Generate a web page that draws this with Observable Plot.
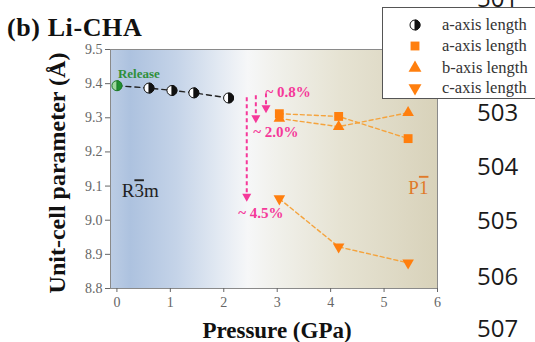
<!DOCTYPE html>
<html><head><meta charset="utf-8">
<script src="https://cdn.jsdelivr.net/npm/d3@7"></script>
<script src="https://cdn.jsdelivr.net/npm/@observablehq/plot@0.6"></script>
<style>
body{margin:0;background:#fff;}
#wrap{position:relative;width:535px;height:342px;overflow:hidden;font-family:'Liberation Serif',serif;}
#wrap svg{position:absolute;left:0;top:0;}
#wrap svg text{font-family:'Liberation Serif',serif;}
#wrap svg text.ln{font-family:'Open Sans',sans-serif;}
</style></head><body><div id="wrap"></div>
<script>
// ---- data ----
const circP = [0, 0.6, 1.03, 1.44, 2.09];
const circA = [9.394, 9.387, 9.380, 9.373, 9.358];
const triP = [3.04, 4.15, 5.45];
const aLen = [9.312, 9.304, 9.239];
const bLen = [9.298, 9.274, 9.315];
const cLen = [9.063, 8.922, 8.875];
const xTicks = [0, 1, 2, 3, 4, 5, 6];
const yTicks = [8.8, 8.9, 9.0, 9.1, 9.2, 9.3, 9.4, 9.5];
const arrowX = [2.43, 2.60, 2.79];
const arrowTop = [9.36, 9.366, 9.372];
const arrowTip = [9.054, 9.284, 9.313];
const pctLabels = ["~ 4.5%", "~ 2.0%", "~ 0.8%"];
const pctX = [2.27, 2.55, 2.78];
const pctY = [9.02, 9.257, 9.374];
const phaseLabels = [["R", "3", "m"], ["P", "1", ""]];
const phaseX = [0.09, 5.83];
const phaseY = [9.085, 9.095];
const legendLabels = ["a-axis length", "a-axis length", "b-axis length", "c-axis length"];
const lineNumbers = ["501", "503", "504", "505", "506", "507"];
const lineNumberBaselines = [7, 121, 175, 229, 285, 337];

const ORANGE = "#ff7f0e", ORANGE_LINE = "#f5a33c", PINK = "#f5399a", GREEN = "#2f8f3a";

const halfRight = {draw(ctx, size) {const r = Math.sqrt(size / Math.PI); ctx.moveTo(0, -r); ctx.arc(0, 0, r, -Math.PI / 2, Math.PI / 2); ctx.closePath();}};
const tipDown = {draw(ctx, size) {const r = Math.sqrt(size / Math.PI); ctx.moveTo(0, 0); ctx.lineTo(-r, -1.8 * r); ctx.lineTo(r, -1.8 * r); ctx.closePath();}};

const idx5 = d3.range(circP.length), idx3 = d3.range(triP.length), idx2 = [0];

const chart = Plot.plot({
  width: 535, height: 342,
  marginLeft: 110, marginRight: 98, marginTop: 49, marginBottom: 54,
  style: {fontFamily: "'Liberation Serif', serif", background: "transparent", overflow: "visible"},
  x: {domain: [-0.12, 6]},
  y: {domain: [8.8, 9.5]},
  marks: [
    Plot.frame({fill: "url(#bgGrad)", stroke: "#8a8a8a"}),
    Plot.axisY({ticks: yTicks, tickFormat: d3.format(".1f"), tickSize: 5, tickPadding: 3, fontSize: 14, color: "#666", label: null}),
    Plot.axisX({ticks: xTicks, tickFormat: d3.format("d"), tickSize: 4, tickPadding: 5, fontSize: 14, color: "#666", label: null}),
    Plot.text(["Unit-cell parameter (Å)"], {frameAnchor: "left", rotate: -90, dx: -53, dy: 4, fontSize: 24, fontWeight: "bold", fill: "#111", textAnchor: "middle", lineAnchor: "middle"}),
    Plot.text(["Pressure (GPa)"], {frameAnchor: "bottom", dx: 3, dy: 42, fontSize: 23, fontWeight: "bold", fill: "#111", textAnchor: "middle", lineAnchor: "middle"}),
    Plot.line(idx5, {x: i => circP[i], y: i => circA[i], stroke: "#222", strokeWidth: 1.4, strokeDasharray: "5,4"}),
    Plot.line(idx3, {x: i => triP[i], y: i => aLen[i], stroke: ORANGE_LINE, strokeWidth: 1.4, strokeDasharray: "4,3"}),
    Plot.line(idx3, {x: i => triP[i], y: i => bLen[i], stroke: ORANGE_LINE, strokeWidth: 1.4, strokeDasharray: "4,3"}),
    Plot.line(idx3, {x: i => triP[i], y: i => cLen[i], stroke: ORANGE_LINE, strokeWidth: 1.4, strokeDasharray: "4,3"}),
    Plot.link(idx3, {x1: i => arrowX[i], x2: i => arrowX[i], y1: i => arrowTop[i], y2: i => arrowTip[i] + 0.01, stroke: PINK, strokeWidth: 2, strokeDasharray: "4,3"}),
    Plot.dot(idx3, {x: i => arrowX[i], y: i => arrowTip[i], symbol: tipDown, r: 4.5, fill: PINK, stroke: "none"}),
    Plot.text(idx3, {x: i => pctX[i], y: i => pctY[i], text: i => pctLabels[i], fill: PINK, fontSize: 15, fontWeight: "bold", textAnchor: "start", lineAnchor: "middle"}),
    Plot.dot(idx5.slice(1), {x: i => circP[i], y: i => circA[i], r: 5, fill: "white", stroke: "#111", strokeWidth: 1}),
    Plot.dot(idx5.slice(1), {x: i => circP[i], y: i => circA[i], r: 5, symbol: halfRight, fill: "#111", stroke: "#111", strokeWidth: 1}),
    Plot.dot(idx2, {x: i => circP[i], y: i => circA[i], r: 5, fill: "#9fd89f", stroke: "#1f7a2a", strokeWidth: 1}),
    Plot.dot(idx2, {x: i => circP[i], y: i => circA[i], r: 5, symbol: halfRight, fill: "#1f8f2f", stroke: "#1f7a2a", strokeWidth: 1}),
    Plot.text(["Release"], {x: 0.41, y: 9.43, fill: GREEN, fontSize: 13, fontWeight: "bold", lineAnchor: "middle"}),
    Plot.dot(idx3, {x: i => triP[i], y: i => bLen[i], symbol: "triangle", r: 4.3, fill: ORANGE, stroke: "none"}),
    Plot.dot(idx3, {x: i => triP[i], y: i => aLen[i], symbol: "square", r: 5, fill: ORANGE, stroke: "none"}),
    Plot.dot(idx3, {x: i => triP[i], y: i => cLen[i], symbol: "triangle", rotate: 180, r: 4.3, fill: ORANGE, stroke: "none"}),
    Plot.text([0], {x: phaseX[0], y: phaseY[0], text: [phaseLabels[0].join("")], fill: "#222", fontSize: 19, textAnchor: "start", lineAnchor: "middle", className: "phase0"}),
    Plot.text([0], {x: phaseX[1], y: phaseY[1], text: [phaseLabels[1].join("")], fill: "#e07a2a", fontSize: 19, textAnchor: "end", lineAnchor: "middle", className: "phase1"})
  ]
});

const svgSel = d3.select(chart);
const defs = svgSel.insert("defs", ":first-child");
const g = defs.append("linearGradient").attr("id", "bgGrad").attr("x1", 0).attr("x2", 1).attr("y1", 0).attr("y2", 0);
[[0, "#bccde5"], [0.06, "#adc2df"], [0.2, "#c4d3e8"], [0.33, "#e2e9f2"], [0.42, "#f6f7f8"], [0.5, "#f1f1ec"], [0.7, "#e6e3d3"], [1, "#d8d2ba"]]
  .forEach(([o, c]) => g.append("stop").attr("offset", o).attr("stop-color", c));

// overline the middle character of the space-group symbols
[0, 1].forEach(k => {
  svgSel.selectAll(`.phase${k} text`).each(function () {
    const t = d3.select(this);
    t.text(null);
    const parts = phaseLabels[k];
    t.append("tspan").text(parts[0]);
    t.append("tspan").style("text-decoration", "overline").text(parts[1]);
    if (parts[2]) t.append("tspan").text(parts[2]);
  });
});

const wrap = document.getElementById("wrap");
wrap.appendChild(chart);

const ov = d3.select(wrap).append("svg").attr("width", 535).attr("height", 342);
ov.append("text").attr("x", 7).attr("y", 36).attr("font-size", 26).attr("letter-spacing", 0.6).attr("font-weight", "bold").attr("fill", "#111").text("(b) Li-CHA");
ov.selectAll("text.ln").data(lineNumbers).join("text").attr("class", "ln")
  .attr("x", 477).attr("y", (d, i) => lineNumberBaselines[i]).attr("font-size", 24).attr("fill", "#1a1a1a").text(d => d);
const lg = ov.append("g");
lg.append("rect").attr("x", 382.5).attr("y", 7.5).attr("width", 160).attr("height", 91).attr("fill", "white").attr("stroke", "#555");
const rowsY = [25, 46, 68, 88];
const sym = (s, r) => d3.symbol(s, Math.PI * r * r)();
lg.append("circle").attr("cx", 415).attr("cy", rowsY[0]).attr("r", 5).attr("fill", "white").attr("stroke", "#111");
lg.append("path").attr("transform", `translate(415,${rowsY[0]})`).attr("d", sym(halfRight, 5)).attr("fill", "#111").attr("stroke", "#111");
lg.append("path").attr("transform", `translate(415,${rowsY[1]})`).attr("d", sym(d3.symbolSquare, 5)).attr("fill", ORANGE);
lg.append("path").attr("transform", `translate(415,${rowsY[2]})`).attr("d", sym(d3.symbolTriangle, 4.8)).attr("fill", ORANGE);
lg.append("path").attr("transform", `translate(415,${rowsY[3]}) rotate(180)`).attr("d", sym(d3.symbolTriangle, 4.8)).attr("fill", ORANGE);
lg.selectAll("text.lgt").data(legendLabels).join("text").attr("class", "lgt").attr("x", 442).attr("y", (d, i) => rowsY[i] + 5)
  .attr("font-size", 16.5).attr("fill", "#333").text(d => d);
</script></body></html>
